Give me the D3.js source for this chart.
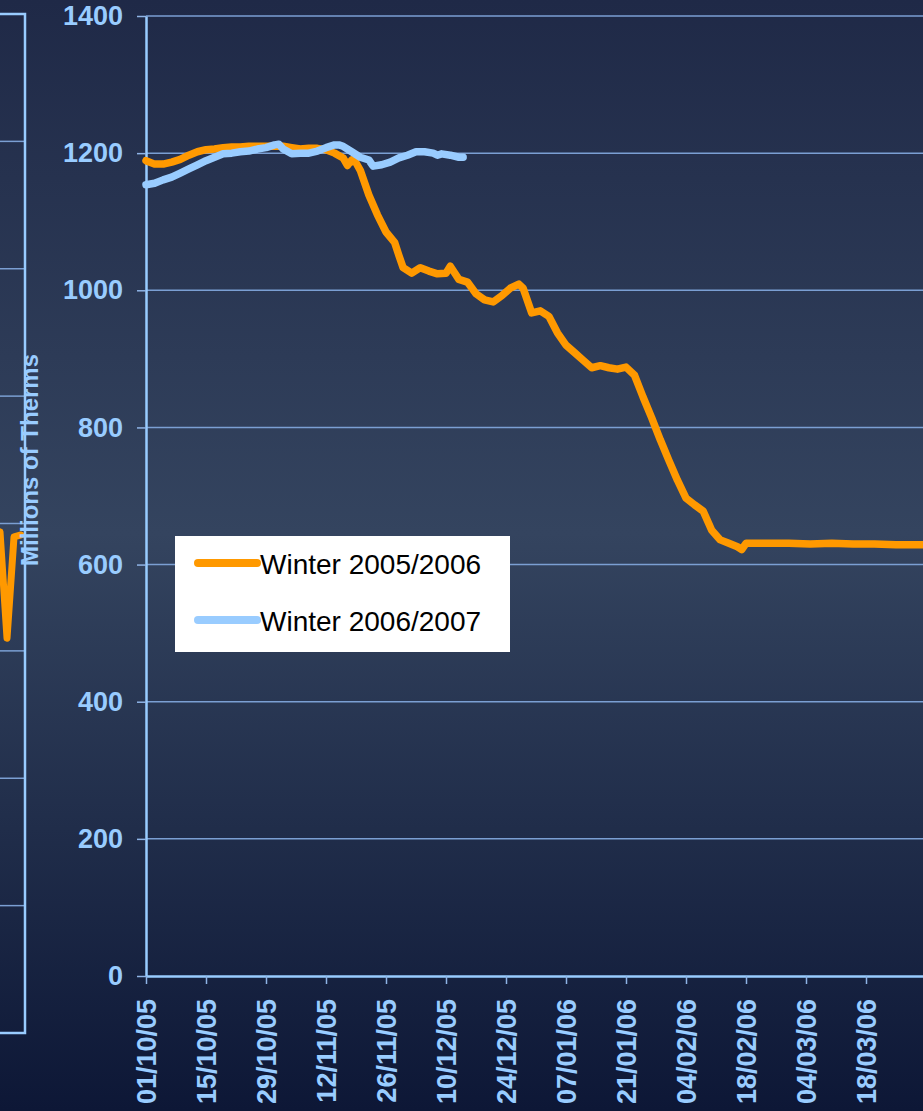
<!DOCTYPE html>
<html>
<head>
<meta charset="utf-8">
<script src="https://cdn.jsdelivr.net/npm/d3@7"></script>
<style>
    body { margin: 0; background: #0e1838; }
    svg { display: block; font-family: "Liberation Sans", Arial, sans-serif; }
</style>
</head>
<body>
<script>
//chart data
var seriesNames = ["Winter 2005/2006", "Winter 2006/2007"];
var seriesColors = ["#ff9900", "#99ccff"];

var yTicks = [0, 200, 400, 600, 800, 1000, 1200, 1400];
var xTickLabels = ["01/10/05", "15/10/05", "29/10/05", "12/11/05", "26/11/05", "10/12/05", "24/12/05",
    "07/01/06", "21/01/06", "04/02/06", "18/02/06", "04/03/06", "18/03/06"];

//winter 2005/2006 storage (millions of therms)
var dates0506 = ["01/10/05", "03/10/05", "05/10/05", "07/10/05", "09/10/05", "11/10/05", "13/10/05",
    "15/10/05", "17/10/05", "19/10/05", "21/10/05", "23/10/05", "25/10/05", "27/10/05", "29/10/05",
    "31/10/05", "02/11/05", "04/11/05", "06/11/05", "08/11/05", "10/11/05", "12/11/05", "14/11/05",
    "16/11/05", "17/11/05", "18/11/05", "19/11/05", "20/11/05", "22/11/05", "24/11/05", "26/11/05",
    "28/11/05", "29/11/05", "30/11/05", "02/12/05", "04/12/05", "06/12/05", "08/12/05", "10/12/05",
    "11/12/05", "13/12/05", "15/12/05", "17/12/05", "19/12/05", "21/12/05", "23/12/05", "25/12/05",
    "27/12/05", "28/12/05", "30/12/05", "01/01/06", "03/01/06", "05/01/06", "07/01/06", "09/01/06",
    "11/01/06", "13/01/06", "15/01/06", "17/01/06", "19/01/06", "21/01/06", "23/01/06", "25/01/06",
    "27/01/06", "29/01/06", "31/01/06", "02/02/06", "04/02/06", "06/02/06", "08/02/06", "10/02/06",
    "12/02/06", "14/02/06", "16/02/06", "17/02/06", "18/02/06", "23/02/06", "28/02/06", "05/03/06",
    "10/03/06", "15/03/06", "20/03/06", "25/03/06", "01/04/06"];
var values0506 = [1189, 1184, 1184, 1187, 1191, 1197, 1202,
    1205, 1206, 1208, 1209, 1209, 1210, 1210, 1210,
    1210, 1210, 1208, 1206, 1207, 1207, 1205, 1200,
    1193, 1182, 1190, 1186, 1175, 1139, 1110, 1085,
    1070, 1051, 1033, 1025, 1033, 1028, 1024, 1025,
    1035, 1016, 1012, 995, 986, 983, 992, 1003,
    1009, 1003, 967, 970, 962, 938, 920, 909,
    898, 887, 890, 887, 885, 888, 876, 844,
    814, 782, 752, 723, 697, 687, 678, 650,
    636, 631, 626, 622, 631, 631, 631, 630,
    631, 630, 630, 629, 629];

//winter 2006/2007 storage (millions of therms)
var dates0607 = ["01/10/06", "03/10/06", "05/10/06", "07/10/06", "09/10/06", "11/10/06", "13/10/06",
    "15/10/06", "17/10/06", "19/10/06", "21/10/06", "23/10/06", "25/10/06", "27/10/06", "29/10/06",
    "31/10/06", "01/11/06", "02/11/06", "04/11/06", "06/11/06", "08/11/06", "10/11/06", "12/11/06",
    "14/11/06", "15/11/06", "16/11/06", "18/11/06", "20/11/06", "22/11/06", "23/11/06", "25/11/06",
    "27/11/06", "29/11/06", "01/12/06", "03/12/06", "05/12/06", "07/12/06", "08/12/06", "09/12/06",
    "11/12/06", "13/12/06", "14/12/06"];
var values0607 = [1154, 1156, 1161, 1165, 1171, 1177, 1183,
    1189, 1194, 1199, 1200, 1202, 1203, 1206, 1208,
    1212, 1213, 1206, 1199, 1200, 1200, 1203, 1208,
    1212, 1212, 1210, 1202, 1194, 1190, 1181, 1183,
    1187, 1193, 1197, 1202, 1202, 1200, 1197, 1199,
    1197, 1194, 1194];

//neighbouring chart, only its right edge shows
var leftGridTicks = [200, 400, 600, 800, 1000, 1200, 1400];
var leftIndex = [0, 1, 2, 3, 4];
var leftValues = [790, 787, 620, 779, 782];

(function(){

    var width = 923,
        height = 1111;

    window.onload = setChart();

function setChart(){

    var parseDate = d3.timeParse("%d/%m/%y");

    var svg = d3.select("body")
        .append("svg")
        .attr("width", width)
        .attr("height", height);

    //background gradient
    var grad = svg.append("defs").append("linearGradient")
        .attr("id", "bg")
        .attr("x1", 0).attr("y1", 0).attr("x2", 0).attr("y2", 1);
    grad.append("stop").attr("offset", "0%").attr("stop-color", "#1f2947");
    grad.append("stop").attr("offset", "48%").attr("stop-color", "#34445f");
    grad.append("stop").attr("offset", "100%").attr("stop-color", "#0d1736");

    svg.append("rect")
        .attr("width", width)
        .attr("height", height)
        .attr("fill", "url(#bg)");

    setLeftPanel(svg);

    //scales
    var x = d3.scaleTime()
        .domain([parseDate("01/10/05"), parseDate("01/04/06")])
        .range([146, 926]);

    var y = d3.scaleLinear()
        .domain([0, 1400])
        .range([976, 16]);

    //gridlines
    svg.append("g")
        .selectAll("line")
        .data(yTicks.filter(function(d){ return d > 0; }))
        .enter()
        .append("line")
        .attr("x1", x.range()[0])
        .attr("x2", width)
        .attr("y1", function(d){ return y(d); })
        .attr("y2", function(d){ return y(d); })
        .attr("stroke", "#7b9fd3")
        .attr("stroke-width", 1.5);

    //y axis
    var yAxis = svg.append("g")
        .attr("transform", "translate(" + x.range()[0] + ",0)")
        .call(d3.axisLeft(y)
            .tickValues(yTicks)
            .tickFormat(d3.format("d"))
            .tickSize(9)
            .tickSizeOuter(0)
            .tickPadding(14));

    //x axis
    var xAxis = svg.append("g")
        .attr("transform", "translate(0," + y(0) + ")")
        .call(d3.axisBottom(x)
            .tickValues(xTickLabels.map(parseDate))
            .tickFormat(d3.timeFormat("%d/%m/%y"))
            .tickSize(8)
            .tickSizeOuter(0));

    xAxis.selectAll("text")
        .attr("x", 0)
        .attr("y", 0)
        .attr("dy", "0.35em")
        .attr("transform", "translate(0,23) rotate(-90)")
        .attr("text-anchor", "end");

    [yAxis, xAxis].forEach(function(ax){
        ax.select(".domain").attr("stroke", "#99ccff").attr("stroke-width", 2.5);
        ax.selectAll(".tick line").attr("stroke", "#8fb4e6").attr("stroke-width", 1.5);
        ax.selectAll("text")
            .attr("fill", "#99ccff")
            .attr("font-size", 27)
            .attr("font-weight", "bold")
            .attr("font-family", "'Liberation Sans', Arial, sans-serif");
    });

    //series lines
    var line = d3.line()
        .x(function(d){ return x(d.date); })
        .y(function(d){ return y(d.value); });

    var s0506 = dates0506.map(function(d, i){
        return { date: parseDate(d), value: values0506[i] };
    });
    //shift the 2006/2007 dates back a year so both winters share the axis
    var s0607 = dates0607.map(function(d, i){
        return { date: d3.timeYear.offset(parseDate(d), -1), value: values0607[i] };
    });

    [s0506, s0607].forEach(function(s, i){
        svg.append("path")
            .datum(s)
            .attr("fill", "none")
            .attr("stroke", seriesColors[i])
            .attr("stroke-width", 7.5)
            .attr("stroke-linejoin", "round")
            .attr("stroke-linecap", "round")
            .attr("d", line);
    });

    //legend
    var legend = svg.append("g");
    legend.append("rect")
        .attr("x", 175)
        .attr("y", 536)
        .attr("width", 335)
        .attr("height", 116)
        .attr("fill", "#ffffff");

    var items = legend.selectAll(".item")
        .data(seriesNames)
        .enter()
        .append("g")
        .attr("class", "item")
        .attr("transform", function(d, i){ return "translate(0," + (563 + i * 57) + ")"; });

    items.append("line")
        .attr("x1", 198)
        .attr("x2", 257)
        .attr("stroke", function(d, i){ return seriesColors[i]; })
        .attr("stroke-width", 8)
        .attr("stroke-linecap", "round");

    items.append("text")
        .attr("x", 260)
        .attr("y", 11)
        .attr("font-size", 28)
        .attr("fill", "#000000")
        .text(function(d){ return d; });

    //axis title
    svg.append("text")
        .attr("transform", "translate(38,460) rotate(-90)")
        .attr("text-anchor", "middle")
        .attr("font-size", 24)
        .attr("font-weight", "bold")
        .attr("fill", "#99ccff")
        .text("Millions of Therms");
}; //end of setChart()

function setLeftPanel(svg){
    var yLeft = d3.scaleLinear()
        .domain([0, 1600])
        .range([1033, 14]);

    var xLeft = d3.scaleLinear()
        .domain([0, 4])
        .range([-7, 21]);

    svg.append("g")
        .selectAll("line")
        .data(leftGridTicks)
        .enter()
        .append("line")
        .attr("x1", 0)
        .attr("x2", 25)
        .attr("y1", function(d){ return yLeft(d); })
        .attr("y2", function(d){ return yLeft(d); })
        .attr("stroke", "#7b9fd3")
        .attr("stroke-width", 1.5);

    svg.append("path")
        .datum(leftIndex)
        .attr("fill", "none")
        .attr("stroke", "#ff9900")
        .attr("stroke-width", 7)
        .attr("stroke-linejoin", "round")
        .attr("stroke-linecap", "round")
        .attr("d", d3.line()
            .x(function(d){ return xLeft(d); })
            .y(function(d, i){ return yLeft(leftValues[i]); }));

    //frame of the neighbouring plot
    svg.append("path")
        .attr("d", "M0," + yLeft(1600) + "H25V" + yLeft(0) + "H0")
        .attr("fill", "none")
        .attr("stroke", "#99ccff")
        .attr("stroke-width", 2.5);
};

})();
</script>
</body>
</html>
